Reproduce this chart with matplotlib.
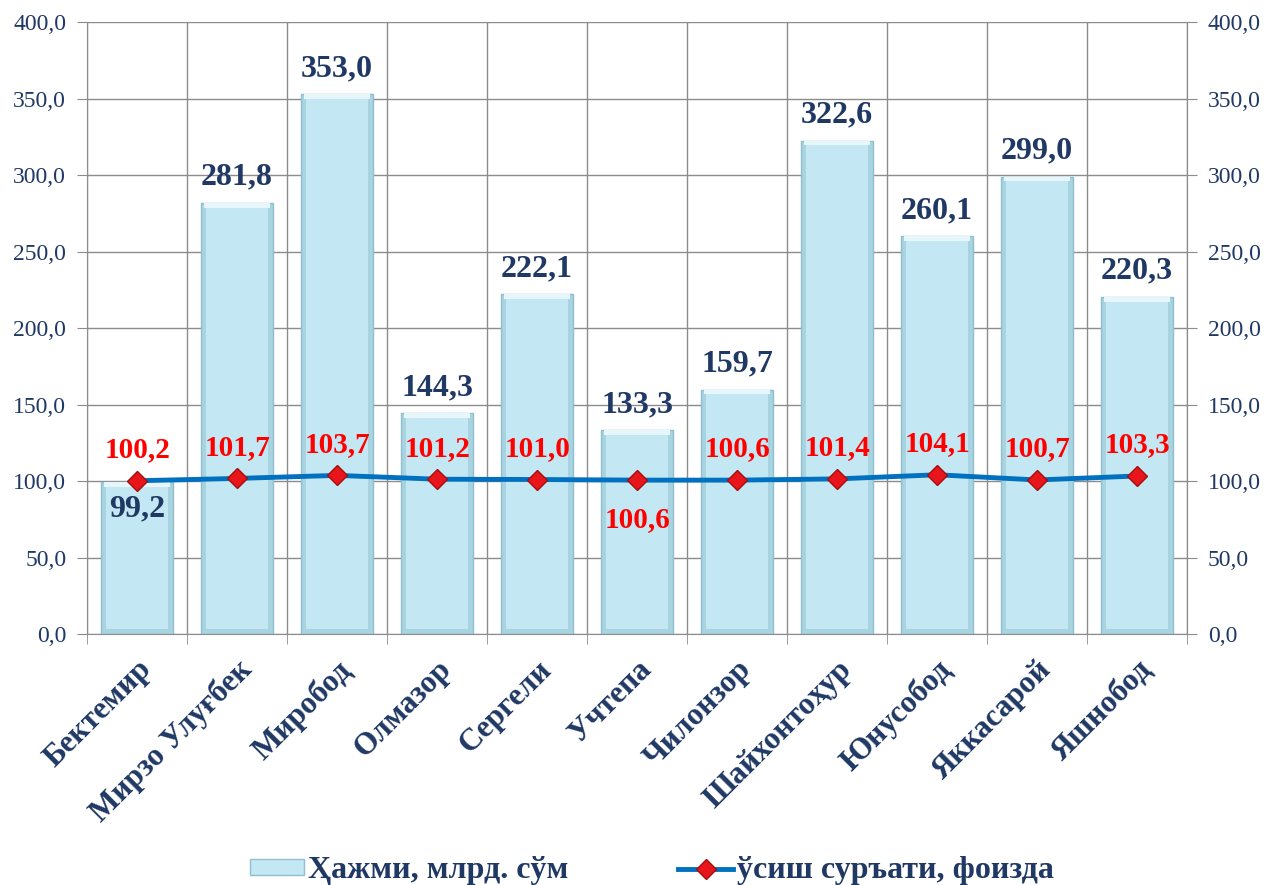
import matplotlib
matplotlib.use("Agg")
import matplotlib.pyplot as plt
import numpy as np
from matplotlib.patches import Patch
from matplotlib.lines import Line2D

categories = ["Бектемир", "Мирзо Улуғбек", "Миробод", "Олмазор", "Сергели", "Учтепа",
              "Чилонзор", "Шайхонтоҳур", "Юнусобод", "Яккасарой", "Яшнобод"]
volume = [99.2, 281.8, 353.0, 144.3, 222.1, 133.3, 159.7, 322.6, 260.1, 299.0, 220.3]
growth = [100.2, 101.7, 103.7, 101.2, 101.0, 100.6, 100.6, 101.4, 104.1, 100.7, 103.3]
yticks = [0, 50, 100, 150, 200, 250, 300, 350, 400]
legend_labels = ["Ҳажми, млрд. сўм", "ўсиш суръати, фоизда"]

plt.rcParams['font.family'] = ['Liberation Serif', 'DejaVu Serif']
navy = '#1F3864'

fig = plt.figure(figsize=(12.71, 8.85), dpi=100)
ax = fig.add_axes([0.0685, 0.2836, 0.8655, 0.6914])
x = np.arange(len(categories))

# bars with a bevel look
ax.bar(x, volume, width=0.72, color='#A8D3E0', edgecolor='#8FBFCE', linewidth=1.0, zorder=2)
ax.bar(x, [v - 6 for v in volume], bottom=3, width=0.62, color='#C3E8F3', edgecolor='none', zorder=2.1)
ax.bar(x, [3 for v in volume], bottom=[v - 3 for v in volume], width=0.66, color='#E6F6FB', edgecolor='none', zorder=2.2)

ax.set_xlim(-0.5, len(categories) - 0.5)
ax.set_ylim(0, 400)
ax.set_yticks(yticks)
ax.set_yticklabels([f"{v:.1f}".replace('.', ',') for v in yticks], color=navy, fontsize=17)
ax.set_xticks(x)
ax.set_xticklabels(categories, rotation=45, ha='right', rotation_mode='anchor',
                   fontsize=22.5, fontweight='bold', color=navy)
ax.tick_params(axis='x', which='major', length=0, pad=15)
ax.set_xticks(np.arange(-0.5, len(categories), 1.0), minor=True)
ax.tick_params(axis='x', which='minor', length=7, color='#8C8C8C')
ax.tick_params(axis='y', length=7, color='#8C8C8C', pad=8)
ax.grid(axis='y', color='#8C8C8C', linewidth=1.0, zorder=0)
ax.grid(axis='x', which='minor', color='#8C8C8C', linewidth=1.0, zorder=0)
ax.set_axisbelow(True)
ax.spines['top'].set_visible(False)
for s in ['left', 'right', 'bottom']:
    ax.spines[s].set_color('#8C8C8C')

for i, v in enumerate(volume):
    lab = f"{v:.1f}".replace('.', ',')
    if v < 110:
        ax.annotate(lab, (i, v), xytext=(0, -9), textcoords='offset points', ha='center', va='top',
                    fontsize=23, fontweight='bold', color=navy, zorder=5)
    else:
        ax.annotate(lab, (i, v), xytext=(0, 8), textcoords='offset points', ha='center', va='bottom',
                    fontsize=23, fontweight='bold', color=navy, zorder=5)

ax2 = ax.twinx()
ax2.set_ylim(0, 400)
ax2.set_yticks(yticks)
ax2.set_yticklabels([f"{v:.1f}".replace('.', ',') for v in yticks], color=navy, fontsize=17)
ax2.tick_params(axis='y', length=7, color='#8C8C8C', pad=8)
for s in ['top', 'left', 'bottom']:
    ax2.spines[s].set_visible(False)
ax2.spines['right'].set_color('#8C8C8C')

ax2.plot(x, growth, color='#0070C0', linewidth=3.5, marker='D', markersize=10,
         markerfacecolor='#E8161B', markeredgecolor='#A01010', markeredgewidth=1.0, zorder=4)
for i, v in enumerate(growth):
    lab = f"{v:.1f}".replace('.', ',')
    if i == 5:
        ax2.annotate(lab, (i, v), xytext=(0, -19), textcoords='offset points', ha='center', va='top',
                     fontsize=21, fontweight='bold', color='#FF0000', zorder=6)
    else:
        ax2.annotate(lab, (i, v), xytext=(0, 17), textcoords='offset points', ha='center', va='baseline',
                     fontsize=21, fontweight='bold', color='#FF0000', zorder=6)

handles = [Patch(facecolor='#C3E8F3', edgecolor='#8FBFCE'),
           Line2D([0], [0], color='#0070C0', linewidth=3.5, marker='D', markersize=10,
                  markerfacecolor='#E8161B', markeredgecolor='#A01010')]
fig.legend(handles, legend_labels, loc='lower center', bbox_to_anchor=(0.5126, -0.033), ncol=2,
           frameon=False, prop={'size': 23, 'weight': 'bold'}, labelcolor=navy,
           columnspacing=3.45, handlelength=1.7, handleheight=0.4, handletextpad=0.12)

fig.savefig('out.png', dpi=100)
